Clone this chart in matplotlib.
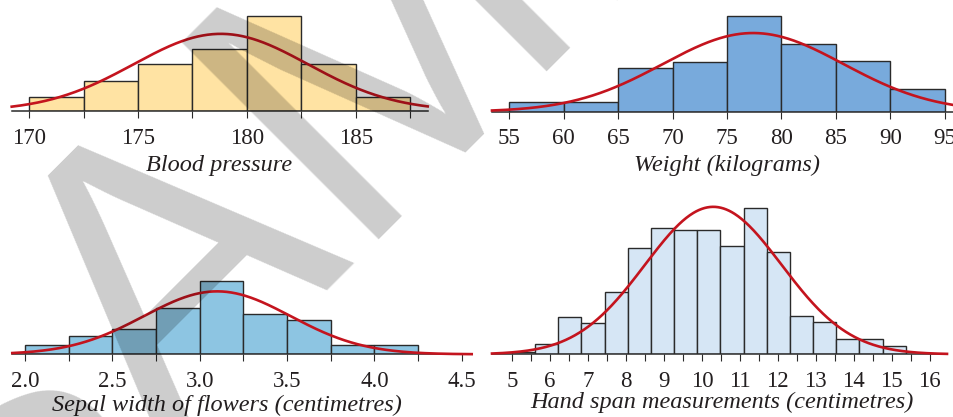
"""Four density histograms with fitted normal curves, SAMPLE watermark on top."""
import numpy as np
import matplotlib.pyplot as plt

# blood pressure: bin edges, densities, normal fit
bp_edges = [170, 172.5, 175, 177.5, 180, 182.5, 185, 187.5]
bp_density = [0.0181, 0.0392, 0.0604, 0.0806, 0.1233, 0.0608, 0.0177]
bp_mean, bp_sd = 178.8, 4.0
bp_ticks = [170, 172.5, 175, 177.5, 180, 182.5, 185, 187.5]
bp_labels = ["170", "", "175", "", "180", "", "185", ""]

# weight (kg)
wt_edges = [55, 60, 65, 70, 75, 80, 85, 90, 95]
wt_density = [0.0059, 0.0061, 0.0269, 0.0306, 0.0585, 0.0411, 0.0310, 0.0136]
wt_mean, wt_sd = 77.4, 8.3
wt_ticks = [55, 60, 65, 70, 75, 80, 85, 90, 95]
wt_labels = ["55", "60", "65", "70", "75", "80", "85", "90", "95"]

# sepal width (cm)
sp_edges = [2.0, 2.25, 2.5, 2.75, 3.0, 3.25, 3.5, 3.75, 4.0, 4.25]
sp_density = [0.136, 0.276, 0.377, 0.694, 1.106, 0.604, 0.513, 0.146, 0.146]
sp_mean, sp_sd = 3.1, 0.42
sp_ticks = [2.0, 2.25, 2.5, 2.75, 3.0, 3.25, 3.5, 3.75, 4.0, 4.25, 4.5]
sp_labels = ["2.0", "", "2.5", "", "3.0", "", "3.5", "", "4.0", "", "4.5"]

# hand span (cm)
hs_start, hs_width = 5.0, 0.61
hs_density = [0.0041, 0.0150, 0.0556, 0.0466, 0.0932, 0.1604, 0.1894, 0.1864,
              0.1864, 0.1623, 0.2205, 0.1538, 0.0582, 0.0491, 0.0230, 0.0230,
              0.0120]
hs_mean, hs_sd = 10.3, 1.8
hs_ticks = [5 + 0.5 * i for i in range(23)]
hs_labels = [str(int(t)) if t == int(t) else "" for t in hs_ticks]

W, H = 954, 417
RED = "#C4141E"
EDGE = "#2A2A2A"
TXT = "#231F20"

fig = plt.figure(figsize=(W / 100, H / 100), dpi=100)


def px_axes(left, right, top, bottom):
    return fig.add_axes([left / W, 1 - bottom / H, (right - left) / W, (bottom - top) / H])


def panel(rect, xlim, ymax, edges, dens, mu, sd, ticks, labels, color, xlabel, lab_xy):
    ax = px_axes(*rect)
    edges = np.asarray(edges, dtype=float)
    ax.bar(edges[:-1], dens, width=np.diff(edges), align="edge",
           color=color, edgecolor=EDGE, linewidth=1.0, zorder=2)
    xs = np.linspace(xlim[0], xlim[1], 500)
    pdf = np.exp(-0.5 * ((xs - mu) / sd) ** 2) / (sd * np.sqrt(2 * np.pi))
    ax.plot(xs, pdf, color=RED, lw=1.9, zorder=3, clip_on=False)
    ax.set_xlim(*xlim)
    ax.set_ylim(0, ymax)
    for s in ("left", "right", "top"):
        ax.spines[s].set_visible(False)
    ax.spines["bottom"].set_color(EDGE)
    ax.spines["bottom"].set_linewidth(1.1)
    ax.set_yticks([])
    ax.set_xticks(ticks)
    ax.set_xticklabels(labels, fontfamily="Liberation Serif", fontsize=16.5, color=TXT)
    ax.tick_params(axis="x", length=5, width=0.8, color=EDGE, pad=7)
    ax.patch.set_visible(False)
    fig.text(lab_xy[0] / W, 1 - lab_xy[1] / H, xlabel, ha="center", va="center",
             fontfamily="Liberation Serif", fontstyle="italic", fontsize=17.5, color=TXT)
    return ax


panel((11.7, 427.7, 0, 111), (169.2, 188.3), 0.1435, bp_edges, bp_density,
      bp_mean, bp_sd, bp_ticks, bp_labels, "#FFE3A3", "Blood pressure", (219, 165))
panel((492, 954, 0, 111.7), (53.4, 95.86), 0.06825, wt_edges, wt_density,
      wt_mean, wt_sd, wt_ticks, wt_labels, "#78AADC", "Weight (kilograms)", (727, 165))
panel((12.3, 471.7, 210, 354.3), (1.927, 4.557), 2.1775, sp_edges, sp_density,
      sp_mean, sp_sd, sp_ticks, sp_labels, "#8DC5E2",
      "Sepal width of flowers (centimetres)", (227, 405))
hs_edges = [hs_start + hs_width * i for i in range(len(hs_density) + 1)]
panel((492, 947, 200, 354.3), (4.473, 16.456), 0.2319, hs_edges, hs_density,
      hs_mean, hs_sd, hs_ticks, hs_labels, "#D6E6F5",
      "Hand span measurements (centimetres)", (722, 402))

# watermark
fig.text(-31.6 / W, 1 - 631 / H, "SAMPLE", rotation=45, rotation_mode="anchor",
         ha="left", va="baseline", fontfamily="Liberation Sans", fontsize=291.6,
         color="black", alpha=0.2, zorder=10)

fig.savefig("out.png", dpi=100)
